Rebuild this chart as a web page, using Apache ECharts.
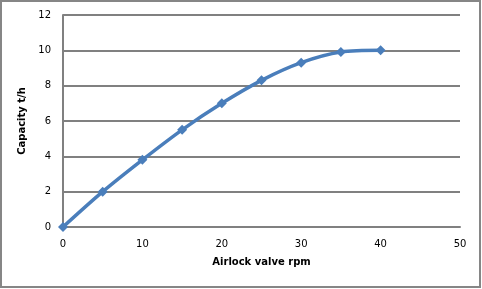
<!DOCTYPE html>
<html><head><meta charset="utf-8">
<script src="https://cdn.jsdelivr.net/npm/echarts@6/dist/echarts.min.js"></script>
<style>html,body{margin:0;padding:0;background:#fff}#c{width:482px;height:289px}</style>
</head><body><div id="c"></div>
<script>
var rpm = [0, 5, 10, 15, 20, 25, 30, 35, 40];
var capacity = [0, 2.0, 3.8, 5.5, 7.0, 8.3, 9.3, 9.9, 10.0];
var xTitle = 'Airlock valve rpm';
var yTitle = 'Capacity t/h';

var chart = echarts.init(document.getElementById('c'));
var font = 'DejaVu Sans';
chart.setOption({
  animation: false,
  backgroundColor: '#fff',
  graphic: [{type: 'rect', shape: {x: 1, y: 1, width: 479, height: 286}, style: {fill: 'none', stroke: '#868686', lineWidth: 2}}],
  grid: {left: 63, right: 22, top: 15, bottom: 62, containLabel: false},
  xAxis: {
    type: 'value', min: 0, max: 50, interval: 10,
    name: xTitle, nameLocation: 'middle', nameGap: 30,
    nameTextStyle: {fontFamily: font, fontWeight: 'bold', fontSize: 10, color: '#000'},
    axisLine: {show: true, lineStyle: {color: '#808080', width: 2}},
    axisTick: {show: false},
    splitLine: {show: false},
    axisLabel: {fontFamily: font, fontSize: 10, color: '#000', margin: 12}
  },
  yAxis: {
    type: 'value', min: 0, max: 12, interval: 2,
    name: yTitle, nameLocation: 'middle', nameGap: 32,
    nameTextStyle: {fontFamily: font, fontWeight: 'bold', fontSize: 10, color: '#000'},
    axisLine: {show: true, lineStyle: {color: '#808080', width: 2}},
    axisTick: {show: false},
    splitLine: {show: true, lineStyle: {color: '#808080', width: 2}},
    axisLabel: {fontFamily: font, fontSize: 10, color: '#000', margin: 12}
  },
  series: [{
    type: 'line',
    data: rpm.map(function (x, i) { return [x, capacity[i]]; }),
    smooth: 0.3,
    symbol: 'diamond', symbolSize: 10,
    lineStyle: {color: '#4a7ebb', width: 3.5},
    itemStyle: {color: '#4a7ebb'}
  }]
});
</script></body></html>
